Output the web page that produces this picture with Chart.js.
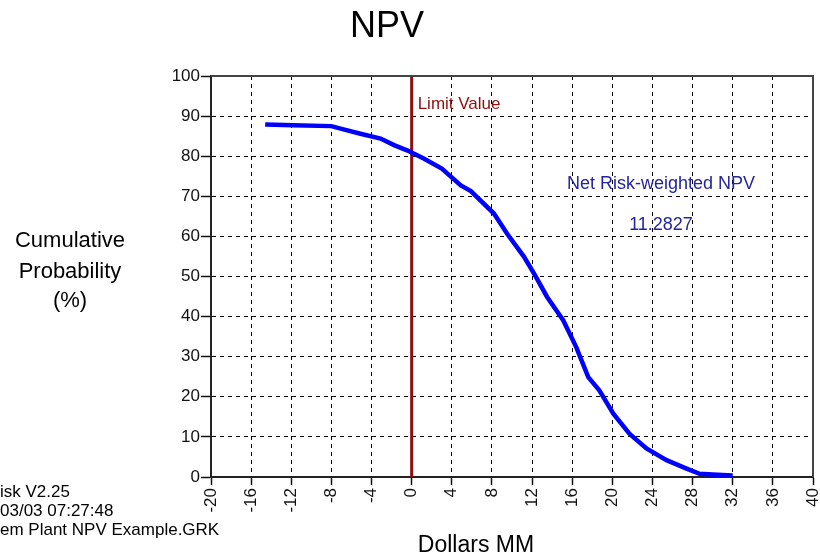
<!DOCTYPE html>
<html>
<head>
<meta charset="utf-8">
<script src="https://cdn.jsdelivr.net/npm/chart.js@4"></script>
<style>
  body { margin: 0; background: #fff; }
  #wrap { width: 820px; height: 556px; }
</style>
</head>
<body>
<div id="wrap"><canvas id="chart" width="820" height="556"></canvas></div>
<script>
// NPV values (Dollars MM) and cumulative probability (%)
const npvValues = [-14.6, -11.8, -8.0, -6.8, -5.1, -3.1, -1.7, -0.4, 1.2, 3.0, 4.9, 5.9, 8.2, 9.5, 11.2, 12.3, 13.5, 15.1, 16.4, 17.6, 18.7, 20.1, 21.7, 23.4, 25.4, 27.4, 28.7, 30.0, 32.0];
const cumProb = [87.9, 87.7, 87.5, 86.7, 85.6, 84.4, 82.7, 81.4, 79.4, 76.9, 72.7, 71.3, 65.7, 60.7, 54.9, 50.3, 44.9, 39.1, 32.4, 24.9, 21.6, 15.8, 10.8, 7.1, 4.2, 2.1, 0.8, 0.6, 0.4];

const limitValue = 0;
const netRiskNpv = "11.2827";

const xTicks = [-20, -16, -12, -8, -4, 0, 4, 8, 12, 16, 20, 24, 28, 32, 36, 40];
const yTicks = [0, 10, 20, 30, 40, 50, 60, 70, 80, 90, 100];

const FONT = "'Liberation Sans', Arial, sans-serif";
const MAROON = "#8b0f0f";
const NAVY = "#24249c";

const curve = npvValues.map((x, i) => ({ x: x, y: cumProb[i] }));

// text that sits outside / on top of the plot
const textPlugin = {
  id: "texts",
  afterDraw(chart) {
    const ctx = chart.ctx;
    const area = chart.chartArea;
    const xs = chart.scales.x;
    ctx.save();

    // plot frame (top and right)
    ctx.strokeStyle = "#444";
    ctx.lineWidth = 2;
    ctx.setLineDash([]);
    ctx.beginPath();
    ctx.moveTo(area.left, area.top);
    ctx.lineTo(area.right, area.top);
    ctx.lineTo(area.right, area.bottom);
    ctx.stroke();

    ctx.fillStyle = "#000";
    ctx.textAlign = "center";
    ctx.textBaseline = "alphabetic";
    ctx.font = "36px " + FONT;
    ctx.fillText("NPV", 387, 37);

    ctx.font = "22px " + FONT;
    ctx.fillText("Cumulative", 70, 247);
    ctx.fillText("Probability", 70, 278);
    ctx.fillText("(%)", 70, 307);

    ctx.font = "23px " + FONT;
    ctx.fillText("Dollars MM", 476, 552);

    ctx.textAlign = "left";
    ctx.font = "17px " + FONT;
    ctx.fillText("isk V2.25", 0, 497);
    ctx.fillText("03/03 07:27:48", 0, 516);
    ctx.fillText("em Plant NPV Example.GRK", 0, 535);

    ctx.fillStyle = MAROON;
    ctx.fillText("Limit Value", xs.getPixelForValue(limitValue) + 6, 109);

    ctx.fillStyle = NAVY;
    ctx.textAlign = "center";
    ctx.font = "18px " + FONT;
    ctx.fillText("Net Risk-weighted NPV", 661, 189);
    ctx.fillText(netRiskNpv, 661, 230);

    ctx.restore();
  },
};

new Chart(document.getElementById("chart"), {
  type: "scatter",
  data: {
    datasets: [
      {
        data: curve,
        showLine: true,
        borderColor: "#0000ff",
        borderWidth: 4.5,
        pointRadius: 0,
        tension: 0,
        order: 1,
      },
      {
        data: [{ x: limitValue, y: 0 }, { x: limitValue, y: 100 }],
        showLine: true,
        borderColor: MAROON,
        borderWidth: 3,
        pointRadius: 0,
        order: 2,
      },
    ],
  },
  options: {
    responsive: false,
    animation: false,
    layout: { padding: { left: 0, top: 76, right: 7, bottom: 0 } },
    plugins: {
      legend: { display: false },
      tooltip: { enabled: false },
      title: { display: false },
    },
    scales: {
      x: {
        type: "linear",
        min: -20,
        max: 40,
        afterBuildTicks: (scale) => {
          scale.ticks = xTicks.map((v) => ({ value: v }));
        },
        afterFit: (scale) => {
          scale.height = 79;
          scale.paddingLeft = 0;
          scale.paddingRight = 0;
        },
        ticks: {
          color: "#111",
          font: { family: FONT, size: 17 },
          minRotation: 90,
          maxRotation: 90,
          padding: 3,
          autoSkip: false,
        },
        grid: {
          color: "#000",
          tickLength: 8,
          tickBorderDash: [],
          tickColor: "#111",
          tickWidth: 1.5,
        },
        border: { display: true, color: "#222", width: 2, dash: [4, 4] },
      },
      y: {
        type: "linear",
        min: 0,
        max: 100,
        afterBuildTicks: (scale) => {
          scale.ticks = yTicks.map((v) => ({ value: v }));
        },
        afterFit: (scale) => {
          scale.width = 211;
          scale.paddingTop = 0;
          scale.paddingBottom = 0;
        },
        ticks: {
          color: "#111",
          font: { family: FONT, size: 17 },
          padding: 1,
          autoSkip: false,
        },
        grid: {
          color: "#000",
          tickLength: 10,
          tickBorderDash: [],
          tickColor: "#111",
          tickWidth: 1.5,
        },
        border: { display: true, color: "#222", width: 2, dash: [4, 4] },
      },
    },
  },
  plugins: [textPlugin],
});
</script>
</body>
</html>
